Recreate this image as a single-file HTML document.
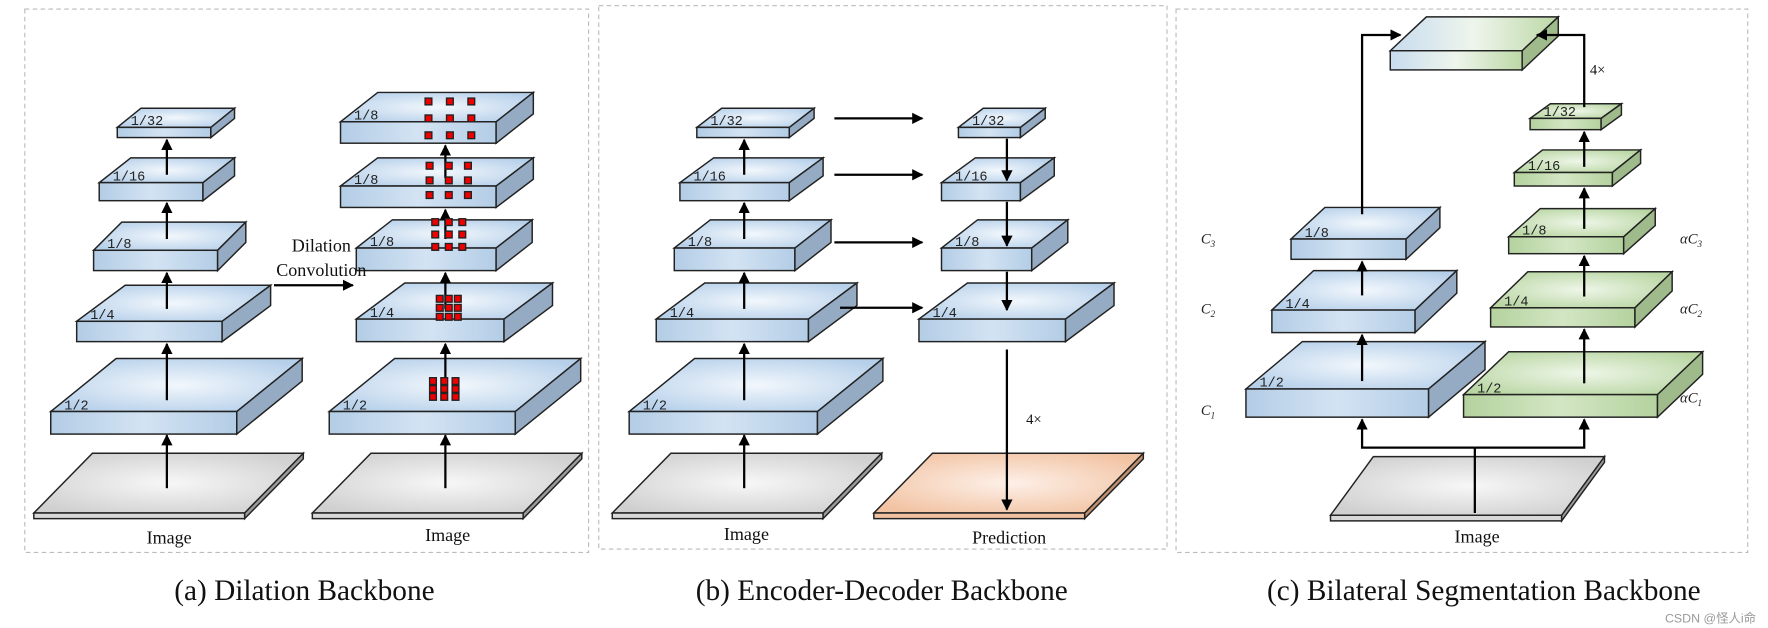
<!DOCTYPE html>
<html><head><meta charset="utf-8"><style>
html,body{margin:0;padding:0;background:#fff;width:1768px;height:628px;overflow:hidden}
svg{display:block}
.s{font-family:"Liberation Serif",serif}
.m{font-family:"Liberation Mono","DejaVu Sans Mono",monospace;font-size:12px;fill:#222}
</style></head><body>
<svg id="g" width="1768" height="628" viewBox="0 0 1568 557" preserveAspectRatio="none" xmlns="http://www.w3.org/2000/svg">
<defs>
<radialGradient id="bt" cx="50%" cy="50%" r="60%"><stop offset="0" stop-color="#f2f7fc"/><stop offset="1" stop-color="#b6d0ea"/></radialGradient>
<linearGradient id="bf" x1="0" x2="1"><stop offset="0" stop-color="#b3cde6"/><stop offset=".5" stop-color="#d3e3f3"/><stop offset="1" stop-color="#b3cde6"/></linearGradient>
<radialGradient id="gt" cx="50%" cy="50%" r="60%"><stop offset="0" stop-color="#eef6e8"/><stop offset="1" stop-color="#b9d6a3"/></radialGradient>
<linearGradient id="gf" x1="0" x2="1"><stop offset="0" stop-color="#b4d29e"/><stop offset=".5" stop-color="#d3e6c4"/><stop offset="1" stop-color="#b4d29e"/></linearGradient>
<radialGradient id="yt" cx="50%" cy="50%" r="60%"><stop offset="0" stop-color="#f7f7f7"/><stop offset="1" stop-color="#d0d0d0"/></radialGradient>
<radialGradient id="ot" cx="50%" cy="50%" r="60%"><stop offset="0" stop-color="#fdf0e8"/><stop offset="1" stop-color="#f2c3a3"/></radialGradient>
<linearGradient id="mt" x1="0" x2="1"><stop offset="0" stop-color="#c8dcef"/><stop offset=".5" stop-color="#eef5ec"/><stop offset="1" stop-color="#bcd8a6"/></linearGradient>
<marker id="ah" viewBox="0 0 10 10" refX="9" refY="5" markerWidth="5" markerHeight="5" orient="auto"><path d="M0,0 L10,5 L0,10 z" fill="#000"/></marker>
</defs>
<g fill="none" stroke="#bbb" stroke-dasharray="4,3" stroke-width="1">
<rect x="22" y="8" width="500" height="482"/>
<rect x="531" y="5" width="504" height="482"/>
<rect x="1043" y="8" width="507" height="482"/>
</g>
<g id="shapes"></g>
<g class="s" font-size="16" text-anchor="middle" fill="#111">
<text x="150" y="482">Image</text>
<text x="397" y="480">Image</text>
<text x="662" y="479">Image</text>
<text x="895" y="482">Prediction</text>
<text x="1310" y="481">Image</text>
<text x="285" y="223">Dilation</text>
<text x="285" y="245">Convolution</text>
<text x="910" y="376" font-size="13" text-anchor="start">4×</text>
<text x="1410" y="66" font-size="13" text-anchor="start">4×</text>
</g>
<g class="s" font-size="13" font-style="italic" fill="#222">
<text x="1065" y="216">C<tspan font-size="8" dy="3">3</tspan></text>
<text x="1065" y="278">C<tspan font-size="8" dy="3">2</tspan></text>
<text x="1065" y="368">C<tspan font-size="8" dy="3">1</tspan></text>
<text x="1490" y="216">αC<tspan font-size="8" dy="3">3</tspan></text>
<text x="1490" y="278">αC<tspan font-size="8" dy="3">2</tspan></text>
<text x="1490" y="357">αC<tspan font-size="8" dy="3">1</tspan></text>
</g>
<g id="labels" class="m"></g>
<g class="m">
<text x="116" y="111">1/32</text><text x="100" y="160">1/16</text><text x="95" y="220">1/8</text><text x="80" y="283">1/4</text><text x="57" y="363">1/2</text>
<text x="314" y="106">1/8</text><text x="314" y="163">1/8</text><text x="328" y="218">1/8</text><text x="328" y="281">1/4</text><text x="304" y="363">1/2</text>
<text x="630" y="111">1/32</text><text x="615" y="160">1/16</text><text x="610" y="218">1/8</text><text x="594" y="281">1/4</text><text x="570" y="363">1/2</text>
<text x="862" y="111">1/32</text><text x="847" y="160">1/16</text><text x="847" y="218">1/8</text><text x="827" y="281">1/4</text>
<text x="1157" y="210">1/8</text><text x="1140" y="273">1/4</text><text x="1117" y="343">1/2</text>
<text x="1369" y="103">1/32</text><text x="1355" y="151">1/16</text><text x="1350" y="208">1/8</text><text x="1334" y="271">1/4</text><text x="1310" y="348">1/2</text>
</g>
<g class="s" font-size="26" text-anchor="middle" fill="#111">
<text x="270" y="532">(a) Dilation Backbone</text>
<text x="782" y="532">(b) Encoder-Decoder Backbone</text>
<text x="1316" y="532">(c) Bilateral Segmentation Backbone</text>
</g>
<text x="1517" y="552" font-family="Liberation Sans,'Noto Sans CJK SC',sans-serif" font-size="11" fill="#999" text-anchor="middle">CSDN @怪人i命</text>
</svg>
<script>
var G=document.getElementById('shapes'),h='';
var C={b:['url(#bt)','url(#bf)','#95abc4'],g:['url(#gt)','url(#gf)','#9fbb8b'],y:['url(#yt)','#d8d8d8','#9a9a9a'],o:['url(#ot)','#f0c0a0','#c08f70'],m:['url(#mt)','url(#mt)','#9fbb8b']};
function P(a){return '<polygon points="'+a.join(' ')+'" ';}
function S(x1,x2,yt,yb,dx,dy,c){var f=C[c];
h+=P([x1+','+yt,x2+','+yt,(x2+dx)+','+(yt-dy),(x1+dx)+','+(yt-dy)])+'fill="'+f[0]+'" stroke="#222" stroke-width="1.3"/>';
h+='<rect x="'+x1+'" y="'+yt+'" width="'+(x2-x1)+'" height="'+(yb-yt)+'" fill="'+f[1]+'" stroke="#222" stroke-width="1.3"/>';
h+=P([x2+','+yt,(x2+dx)+','+(yt-dy),(x2+dx)+','+(yb-dy),x2+','+yb])+'fill="'+f[2]+'" stroke="#222" stroke-width="1.3"/>';}
function A(x1,y1,x2,y2){h+='<line x1="'+x1+'" y1="'+y1+'" x2="'+x2+'" y2="'+y2+'" stroke="#000" stroke-width="2" marker-end="url(#ah)"/>';}
function L(pts){h+='<polyline points="'+pts.join(' ')+'" fill="none" stroke="#000" stroke-width="2" marker-end="url(#ah)"/>';}
S(30,217,455,460,52,53,'y');A(148,433,148,386);
S(45,210,365,385,58,47,'b');A(148,355,148,305);
S(68,197,285,303,43,32,'b');A(148,274,148,242);
S(83,193,222,240,25,25,'b');A(148,212,148,180);
S(88,180,162,178,28,22,'b');A(148,155,148,124);
S(104,187,113,122,21,17,'b');
S(277,464,455,460,52,53,'y');A(395,433,395,386);
S(292,457,365,385,58,47,'b');A(395,355,395,305);
S(316,447,283,303,43,32,'b');A(395,274,395,242);
S(316,440,220,240,32,25,'b');A(395,212,395,186);
S(302,440,165,184,33,25,'b');A(395,158,395,129);
S(302,440,108,127,33,26,'b');
A(243,253,313,253);
function R(x,y,s){h+='<rect x="'+x+'" y="'+y+'" width="'+s+'" height="'+s+'" fill="#e00" stroke="#222" stroke-width="1.2"/>';}
[[385,335],[395,335],[405,335]].forEach(function(c){for(var j=0;j<3;j++)R(c[0]-4,c[1]+j*7,6);});
for(var i=0;i<3;i++)for(var j=0;j<3;j++)R(387+i*8,262+j*8,6);
for(var i=0;i<3;i++)for(var j=0;j<3;j++)R(383+i*12,194+j*11,6);
for(var i=0;i<3;i++)for(var j=0;j<3;j++)R(378+i*17,144+j*13,6);
for(var i=0;i<3;i++)for(var j=0;j<3;j++)R(377+i*19,87+j*15,6);
S(543,730,455,460,52,53,'y');A(660,433,660,386);
S(558,725,365,385,58,47,'b');A(660,355,660,305);
S(582,717,283,303,43,32,'b');A(660,274,660,242);
S(598,705,220,240,32,25,'b');A(660,212,660,180);
S(603,700,162,178,30,22,'b');A(660,155,660,124);
S(618,700,113,122,22,17,'b');
S(815,945,283,303,43,32,'b');S(835,915,220,240,32,25,'b');S(835,905,162,178,30,22,'b');S(850,905,113,122,22,17,'b');
S(775,962,455,460,52,53,'o');
A(740,105,818,105);A(740,155,818,155);A(740,215,818,215);A(745,273,818,273);
A(893,123,893,160);A(893,179,893,218);A(893,241,893,275);A(893,310,893,452);
S(1180,1385,457,462,38,52,'y');
S(1105,1267,345,370,50,42,'b');S(1128,1255,275,295,37,35,'b');S(1145,1247,212,230,30,28,'b');
S(1298,1470,350,370,40,38,'g');S(1322,1450,273,290,33,32,'g');S(1338,1440,210,225,28,25,'g');S(1343,1430,153,165,25,20,'g');S(1357,1420,105,115,18,13,'g');
S(1233,1350,45,62,32,30,'m');
h+='<polyline points="1308,455 1308,397" fill="none" stroke="#000" stroke-width="2"/>';
L(['1308,397','1208,397','1208,372']);
h+='<polyline points="1308,397 1405,397 1405,372" fill="none" stroke="#000" stroke-width="2" marker-end="url(#ah)"/>';
A(1208,338,1208,297);A(1208,262,1208,232);A(1405,340,1405,292);A(1405,263,1405,227);A(1405,203,1405,167);A(1405,148,1405,117);
L(['1208,190','1208,31','1242,31']);L(['1405,95','1405,31','1363,31']);
G.innerHTML=h;
</script>
</body></html>
